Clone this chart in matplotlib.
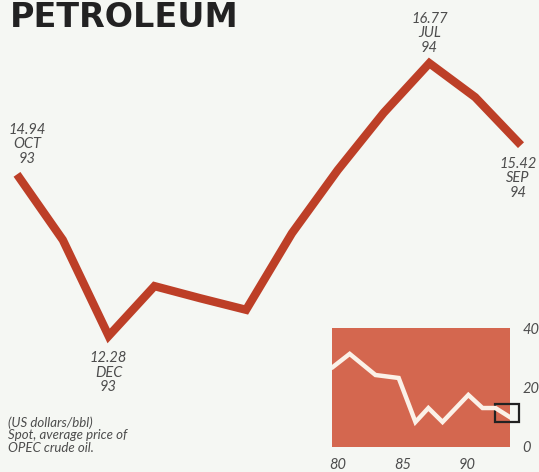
import matplotlib.pyplot as plt
from matplotlib.patches import Rectangle

# Monthly OPEC spot price, Oct 93 - Sep 94 (US$/bbl)
months = ['OCT 93', 'NOV 93', 'DEC 93', 'JAN 94', 'FEB 94', 'MAR 94',
          'APR 94', 'MAY 94', 'JUN 94', 'JUL 94', 'AUG 94', 'SEP 94']
prices = [14.94, 13.86, 12.28, 13.10, 12.90, 12.71,
          13.97, 15.01, 15.95, 16.77, 16.21, 15.42]

# Long-term history for the small chart
hist_years = [79.6, 80.9, 82.9, 84.7, 86.0, 87.0, 88.1, 90.1, 91.2, 92.2, 93.3]
hist_prices = [26.9, 31.3, 24.2, 23.2, 8.4, 13.1, 8.4, 17.5, 13.1, 13.1, 10.1]

# labelled points: index -> pixel offset of the label
labels = {0: (10, 30), 2: (0, -37), 9: (0, 30), 11: (-3, -33)}

bg = '#f5f7f3'
red = '#bd3f27'
grey = '#4d4d4d'
font = 'Lato'

fig = plt.figure(figsize=(5.39, 4.72), dpi=100, facecolor=bg)

ax = fig.add_axes([0, 0, 1, 1])
ax.set_facecolor(bg)
x = list(range(len(prices)))
ax.plot(x, prices, color=red, lw=6, solid_joinstyle='miter', solid_capstyle='butt')
ax.set_xlim(-0.371, 11.393)
ax.set_ylim(10.04, 17.81)
ax.axis('off')

for i, (dx, dy) in labels.items():
    mon, yr = months[i].split()
    ax.annotate(f'{prices[i]:.2f}\n{mon}\n{yr}', (x[i], prices[i]),
                xytext=(dx, dy), textcoords='offset pixels',
                ha='center', va='center', fontsize=10.5, style='italic',
                family=font, color=grey, linespacing=1.05)

fig.text(10 / 539, 1 - 27 / 472, 'PETROLEUM', fontsize=24, fontweight='bold',
         family='DejaVu Sans', color='#222222', va='baseline', ha='left')

fig.text(8 / 539, 1 - 416 / 472,
         '(US dollars/bbl)\nSpot, average price of\nOPEC crude oil.',
         fontsize=9.5, style='italic', family=font, color=grey,
         va='top', ha='left', linespacing=1.08)

# inset with the longer history
ins = fig.add_axes([332 / 539, 25 / 472, 178 / 539, 119 / 472])
ins.set_facecolor('#d4674f')
ins.plot(hist_years, hist_prices, color='#fbf1e8', lw=3.2, solid_joinstyle='miter')
ins.set_xlim(79.53, 93.33)
ins.set_ylim(0, 40)
for s in ins.spines.values():
    s.set_visible(False)
ins.set_xticks([80, 85, 90])
ins.set_xticklabels(['80', '85', '90'])
ins.set_yticks([0, 20, 40])
ins.yaxis.tick_right()
ins.tick_params(length=0, labelsize=10.5, labelcolor=grey, pad=8)
ins.tick_params(axis='y', pad=9)
for t in ins.get_xticklabels() + ins.get_yticklabels():
    t.set_fontstyle('italic')
    t.set_family(font)
ins.add_patch(Rectangle((92.2, 8.4), 1.8, 6.1, fill=False, edgecolor='#222222',
                        lw=1.6, clip_on=False))

fig.savefig('out.png', dpi=100, facecolor=bg)
